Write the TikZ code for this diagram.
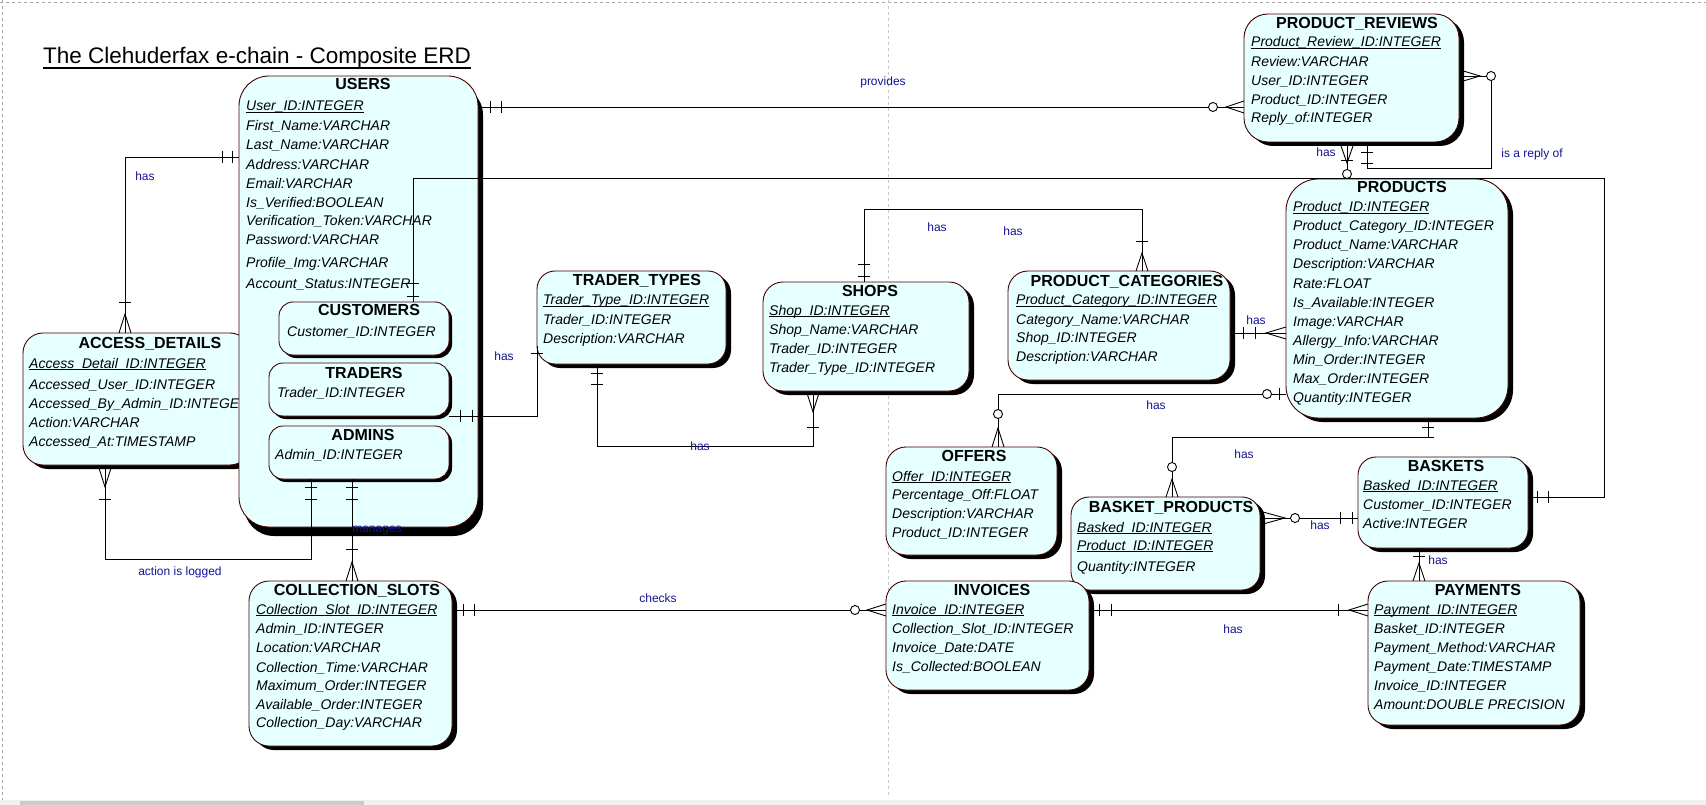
\documentclass[tikz,border=0pt]{standalone}
\usepackage{fontspec}
\setmainfont{Liberation Sans}
\usetikzlibrary{shadows}
\definecolor{efill}{RGB}{230,255,255}
\definecolor{eborder}{RGB}{70,0,0}
\definecolor{lblue}{RGB}{20,20,150}
\definecolor{pgray}{RGB}{165,165,165}
\newcommand\attrfont{\fontsize{14}{17}\selectfont\itshape}
\newcommand\ttlfont{\fontsize{16}{19}\selectfont\bfseries}
\newcommand\lblfont{\fontsize{12}{14}\selectfont}
\newsavebox\pkbox
\newcommand\pkline[1]{\sbox\pkbox{#1}\rlap{\usebox\pkbox}\rule[-2pt]{\wd\pkbox}{0.9pt}}
\newcommand\ent[8]{\node[entity, rounded corners=#6pt, minimum width=#4pt, minimum height=#5pt,
  drop shadow={shadow xshift=#7pt, shadow yshift=-#8pt, fill=black, opacity=1}] (#1) at (#2,#3) {};}
\newcommand\etitle[4]{\node[ttltext] (#1) at (#2,#3+6) {#4};}
\newcommand\attrs[3]{\foreach \yy/\tx [count=\i] in {#3} {\node[attrtext] (#1-a\i) at (#2,\yy+5) {\tx};}}
\newcommand\tickH[2]{\draw[conn] (#1,#2-6) -- (#1,#2+6);}
\newcommand\tickV[2]{\draw[conn] (#1-6,#2) -- (#1+6,#2);}
\newcommand\ringAt[2]{\draw[conn,fill=white] (#1,#2) circle[radius=4.5];}
\newcommand\crowH[3]{\draw[conn] (#3,#2-6) -- (#1,#2) -- (#3,#2+6);}
\newcommand\crowV[3]{\draw[conn] (#1-6,#3) -- (#1,#2) -- (#1+6,#3);}
\begin{document}
\begin{tikzpicture}[x=1pt,y=-1pt,
  entity/.style={draw=eborder, fill=efill, line width=0.9pt, anchor=north west, inner sep=0pt, outer sep=0pt},
  ttltext/.style={anchor=base, inner sep=0pt, font=\ttlfont},
  attrtext/.style={anchor=base west, inner sep=0pt, font=\attrfont},
  conn/.style={draw=black, line width=0.9pt},
  lbl/.style={inner sep=0pt, font=\lblfont, text=lblue}]
\useasboundingbox (0,0) rectangle (1706,805);
\fill[white] (0,0) rectangle (1706,805);
% page frame
\draw[pgray, dashed, line width=0.9pt] (0,2) -- (1706,2);
\draw[pgray, dashed, line width=0.9pt] (2,0) -- (2,800);
\draw[pgray!60, dashed, line width=0.8pt] (888,0) -- (888,798);
\fill[gray!12] (0,800) rectangle (1706,805);
\fill[gray!40] (20,801) rectangle (364,805);
% title
\node[anchor=base west, inner sep=0pt, font=\fontsize{22.5}{27}\selectfont] (title) at (43,64) {The Clehuderfax e-chain - Composite ERD};
\draw[line width=1.3pt] ([yshift=-4pt]title.base west) -- ([yshift=-4pt]title.base east);
% ACCESS_DETAILS (under USERS)
\ent{accd}{23}{333}{227}{132}{20}{5}{4}
\etitle{accd-t}{150}{342}{ACCESS\_DETAILS}
\attrs{accd}{29}{363/{\pkline{Access\_Detail\_ID:INTEGER}},384/Accessed\_User\_ID:INTEGER,403/Accessed\_By\_Admin\_ID:INTEGER,422/Action:VARCHAR,441/Accessed\_At:TIMESTAMP}
% USERS
\ent{users}{239}{76}{239}{451}{30}{5}{9}
\etitle{users-t}{363}{84}{USERS}
\attrs{users}{246}{106/{\pkline{User\_ID:INTEGER}},126/First\_Name:VARCHAR,145/Last\_Name:VARCHAR,165/Address:VARCHAR,184/Email:VARCHAR,203/Is\_Verified:BOOLEAN,221/Verification\_Token:VARCHAR,240/Password:VARCHAR,263/Profile\_Img:VARCHAR,283/Account\_Status:INTEGER}
\ent{custs}{279}{302}{170}{53}{14}{3}{3}
\etitle{custs-t}{369}{310}{CUSTOMERS}
\attrs{custs}{287}{331/Customer\_ID:INTEGER}
\ent{traders}{269}{363}{180}{53}{14}{3}{3}
\etitle{traders-t}{364}{372}{TRADERS}
\attrs{traders}{277}{392/Trader\_ID:INTEGER}
\ent{admins}{269}{426}{180}{53}{14}{3}{3}
\etitle{admins-t}{363}{434}{ADMINS}
\attrs{admins}{275}{454/Admin\_ID:INTEGER}
% TRADER_TYPES
\ent{ttypes}{537}{271}{189}{93}{18}{5}{4}
\etitle{ttypes-t}{637}{280}{TRADER\_TYPES}
\attrs{ttypes}{543}{300/{\pkline{Trader\_Type\_ID:INTEGER}},319/Trader\_ID:INTEGER,338/Description:VARCHAR}
% SHOPS
\ent{shops}{763}{282}{206}{109}{20}{5}{4}
\etitle{shops-t}{870}{290}{SHOPS}
\attrs{shops}{769}{310/{\pkline{Shop\_ID:INTEGER}},329/Shop\_Name:VARCHAR,348/Trader\_ID:INTEGER,367/Trader\_Type\_ID:INTEGER}
% PRODUCT_CATEGORIES
\ent{pcat}{1008}{271}{222}{109}{20}{5}{4}
\etitle{pcat-t}{1127}{281}{PRODUCT\_CATEGORIES}
\attrs{pcat}{1016}{300/{\pkline{Product\_Category\_ID:INTEGER}},319/Category\_Name:VARCHAR,337/Shop\_ID:INTEGER,356/Description:VARCHAR}
% PRODUCT_REVIEWS
\ent{prev}{1244}{14}{215}{128}{24}{5}{4}
\etitle{prev-t}{1357}{23}{PRODUCT\_REVIEWS}
\attrs{prev}{1251}{42/{\pkline{Product\_Review\_ID:INTEGER}},62/Review:VARCHAR,81/User\_ID:INTEGER,100/Product\_ID:INTEGER,118/Reply\_of:INTEGER}
% PRODUCTS
\ent{prods}{1286}{179}{222}{239}{32}{5}{4}
\etitle{prods-t}{1402}{187}{PRODUCTS}
\attrs{prods}{1293}{207/{\pkline{Product\_ID:INTEGER}},226/Product\_Category\_ID:INTEGER,245/Product\_Name:VARCHAR,264/Description:VARCHAR,283/Rate:FLOAT,302/Is\_Available:INTEGER,321/Image:VARCHAR,340/Allergy\_Info:VARCHAR,359/Min\_Order:INTEGER,378/Max\_Order:INTEGER,397/Quantity:INTEGER}
% OFFERS
\ent{offers}{886}{447}{171}{108}{20}{5}{4}
\etitle{offers-t}{974}{455}{OFFERS}
\attrs{offers}{892}{476/{\pkline{Offer\_ID:INTEGER}},494/Percentage\_Off:FLOAT,513/Description:VARCHAR,532/Product\_ID:INTEGER}
% BASKET_PRODUCTS
\ent{bprods}{1071}{497}{189}{93}{18}{5}{4}
\etitle{bprods-t}{1171}{506}{BASKET\_PRODUCTS}
\attrs{bprods}{1077}{527/{\pkline{Basked\_ID:INTEGER}},545/{\pkline{Product\_ID:INTEGER}},566/Quantity:INTEGER}
% BASKETS
\ent{baskets}{1358}{457}{170}{91}{18}{5}{4}
\etitle{baskets-t}{1446}{465}{BASKETS}
\attrs{baskets}{1363}{485/{\pkline{Basked\_ID:INTEGER}},504/Customer\_ID:INTEGER,523/Active:INTEGER}
% PAYMENTS
\ent{pays}{1368}{581}{212}{144}{20}{5}{4}
\etitle{pays-t}{1478}{589}{PAYMENTS}
\attrs{pays}{1374}{609/{\pkline{Payment\_ID:INTEGER}},628/Basket\_ID:INTEGER,647/Payment\_Method:VARCHAR,666/Payment\_Date:TIMESTAMP,685/Invoice\_ID:INTEGER,704/Amount:DOUBLE PRECISION}
% INVOICES
\ent{invs}{886}{581}{203}{109}{20}{5}{4}
\etitle{invs-t}{992}{589}{INVOICES}
\attrs{invs}{892}{609/{\pkline{Invoice\_ID:INTEGER}},628/Collection\_Slot\_ID:INTEGER,647/Invoice\_Date:DATE,666/Is\_Collected:BOOLEAN}
% COLLECTION_SLOTS
\ent{colls}{249}{581}{203}{165}{20}{5}{4}
\etitle{colls-t}{357}{589}{COLLECTION\_SLOTS}
\attrs{colls}{256}{609/{\pkline{Collection\_Slot\_ID:INTEGER}},628/Admin\_ID:INTEGER,647/Location:VARCHAR,667/Collection\_Time:VARCHAR,685/Maximum\_Order:INTEGER,704/Available\_Order:INTEGER,722/Collection\_Day:VARCHAR}
% ---------- connectors ----------
% USERS - ACCESS_DETAILS
\draw[conn] (users.west |- 0,157) -- (125,157) -- (accd.north -| 125,0);
\tickH{222}{157}\tickH{232}{157}\tickV{125}{302}\crowV{125}{314}{333}
% ADMINS - ACCESS_DETAILS (action is logged)
\draw[conn] (admins.south -| 311,0) -- (311,559) -- (105,559) -- (accd.south -| 105,0);
\tickV{311}{487}\tickV{311}{499}\crowV{105}{487}{468}\tickV{105}{499}
% ADMINS - COLLECTION_SLOTS (manages)
\draw[conn] (admins.south -| 352,0) -- (colls.north -| 352,0);
\tickV{352}{487}\tickV{352}{499}\tickV{352}{549}\crowV{352}{562}{581}
% TRADERS - TRADER_TYPES
\draw[conn] (traders.east |- 0,416) -- (537,416) -- (ttypes.west |- 0,346);
\tickH{460}{416}\tickH{472}{416}\tickV{537}{353}
% TRADER_TYPES - SHOPS
\draw[conn] (ttypes.south -| 597,0) -- (597,446) -- (813,446) -- (shops.south -| 813,0);
\tickV{597}{373}\tickV{597}{384}\crowV{813}{412}{393}\tickV{813}{427}
% SHOPS - PRODUCT_CATEGORIES
\draw[conn] (shops.north -| 864,0) -- (864,209) -- (1142,209) -- (pcat.north -| 1142,0);
\tickV{864}{264}\tickV{864}{276}\tickV{1142}{241}\crowV{1142}{253}{271}
% PRODUCT_CATEGORIES - PRODUCTS
\draw[conn] (pcat.east |- 0,333) -- (prods.west |- 0,333);
\tickH{1243}{333}\tickH{1255}{333}\crowH{1266}{333}{1286}
% OFFERS - PRODUCTS
\draw[conn] (offers.north -| 998,0) -- (998,394) -- (prods.west |- 0,394);
\crowV{998}{428}{447}\ringAt{998}{414}\ringAt{1267}{394}\tickH{1279}{394}
% BASKET_PRODUCTS - PRODUCTS
\draw[conn] (bprods.north -| 1172,0) -- (1172,437) -- (1428,437) -- (prods.south -| 1428,0);
\crowV{1172}{479}{497}\ringAt{1172}{467}\tickV{1428}{427}\tickV{1428}{437}
% BASKET_PRODUCTS - BASKETS
\draw[conn] (bprods.east |- 0,518) -- (baskets.west |- 0,518);
\crowH{1285}{518}{1263}\ringAt{1295}{518}\tickH{1340}{518}\tickH{1352}{518}
% BASKETS - PAYMENTS
\draw[conn] (baskets.south -| 1419,0) -- (pays.north -| 1419,0);
\tickV{1419}{556}\crowV{1419}{563}{581}
% INVOICES - PAYMENTS
\draw[conn] (invs.east |- 0,610) -- (pays.west |- 0,610);
\tickH{1099}{610}\tickH{1111}{610}\tickH{1338}{610}\crowH{1349}{610}{1368}
% COLLECTION_SLOTS - INVOICES
\draw[conn] (colls.east |- 0,610) -- (invs.west |- 0,610);
\tickH{463}{610}\tickH{474}{610}\ringAt{855}{610}\crowH{867}{610}{886}
% USERS - PRODUCT_REVIEWS
\draw[conn] (users.east |- 0,107) -- (prev.west |- 0,107);
\tickH{490}{107}\tickH{501}{107}\ringAt{1213}{107}\crowH{1226}{107}{1244}
% CUSTOMERS - BASKETS
\draw[conn] (custs.north -| 413,0) -- (413,178) -- (1604,178) -- (1604,497) -- (baskets.east |- 0,497);
\tickV{413}{283}\tickV{413}{296}\tickH{1537}{497}\tickH{1548}{497}
% PRODUCT_REVIEWS - PRODUCTS
\draw[conn] (prev.south -| 1347,0) -- (prods.north -| 1347,0);
\crowV{1347}{163}{146}\tickV{1347}{160}\ringAt{1347}{174}
% PRODUCT_REVIEWS self (is a reply of)
\draw[conn] (prev.south -| 1367,0) -- (1367,168) -- (1491,168) -- (1491,76) -- (prev.east |- 0,76);
\tickV{1367}{152}\tickV{1367}{163}\ringAt{1491}{76}\crowH{1480}{76}{1460}
% ---------- labels ----------
\node[lbl] (l-has1) at (145,176) {has};
\node[lbl] (l-prov) at (883,82) {provides};
\node[lbl] (l-has2) at (504,356) {has};
\node[lbl] (l-has3) at (700,446) {has};
\node[lbl] (l-has4) at (937,227) {has};
\node[lbl] (l-has5) at (1013,231) {has};
\node[lbl] (l-has6) at (1256,320) {has};
\node[lbl] (l-has7) at (1326,152) {has};
\node[lbl] (l-reply) at (1532,154) {is a reply of};
\node[lbl] (l-has8) at (1156,405) {has};
\node[lbl] (l-has9) at (1244,454) {has};
\node[lbl] (l-has10) at (1320,525) {has};
\node[lbl] (l-has11) at (1438,560) {has};
\node[lbl] (l-has12) at (1233,629) {has};
\node[lbl] (l-checks) at (658,598) {checks};
\node[lbl] (l-log) at (180,572) {action is logged};
\node[lbl] (l-man) at (377,531) {manages};
\end{tikzpicture}
\end{document}
